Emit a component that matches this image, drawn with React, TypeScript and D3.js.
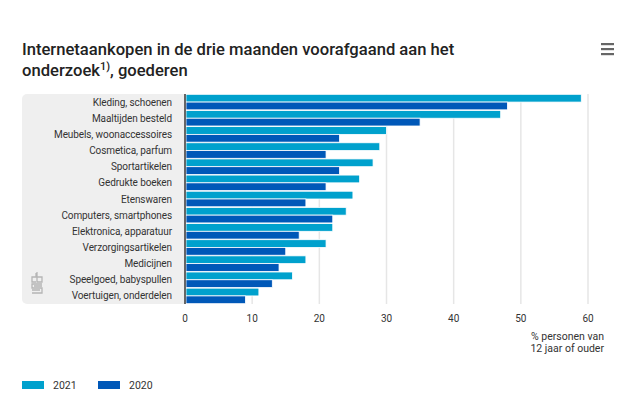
import React, { useRef, useEffect } from "react";
import * as d3 from "d3";

const categories = [
  "Kleding, schoenen",
  "Maaltijden besteld",
  "Meubels, woonaccessoires",
  "Cosmetica, parfum",
  "Sportartikelen",
  "Gedrukte boeken",
  "Etenswaren",
  "Computers, smartphones",
  "Elektronica, apparatuur",
  "Verzorgingsartikelen",
  "Medicijnen",
  "Speelgoed, babyspullen",
  "Voertuigen, onderdelen",
];
const values2021 = [59, 47, 30, 29, 28, 26, 25, 24, 22, 21, 18, 16, 11];
const values2020 = [48, 35, 23, 21, 23, 21, 18, 22, 17, 15, 14, 13, 9];
const seriesNames = ["2021", "2020"];
const xTicks = [0, 10, 20, 30, 40, 50, 60];

const App = () => {
  const ref = useRef<SVGSVGElement>(null);

  useEffect(() => {
    const width = 642;
    const height = 397;
    const font = "Roboto, sans-serif";
    const colors = ["#00a1cd", "#0058b8"];
    const left = 185;
    const right = 588;
    const top = 94;
    const bottom = 304;

    const svg = d3.select(ref.current);
    svg.selectAll("*").remove();
    svg.attr("width", width).attr("height", height);

    // title
    svg
      .append("text")
      .attr("x", 22)
      .attr("y", 55)
      .style("font-family", font)
      .style("font-weight", "500")
      .style("font-size", "16.6px")
      .style("fill", "#222")
      .text("Internetaankopen in de drie maanden voorafgaand aan het");
    const t2 = svg
      .append("text")
      .attr("x", 22)
      .attr("y", 76)
      .style("font-family", font)
      .style("font-weight", "500")
      .style("font-size", "16.6px")
      .style("fill", "#222");
    t2.append("tspan").text("onderzoek");
    t2.append("tspan").attr("dy", -6).style("font-size", "11px").text("1)");
    t2.append("tspan").attr("dy", 6).text(", goederen");

    // menu icon
    [44, 49, 54].forEach((y) => {
      svg
        .append("rect")
        .attr("x", 601)
        .attr("y", y - 1)
        .attr("width", 13)
        .attr("height", 2.2)
        .attr("fill", "#666");
    });

    const x = d3.scaleLinear().domain([0, 60]).range([left, right]);
    const y = d3.scaleBand().domain(categories).range([top, bottom]);
    const inner = d3
      .scaleBand()
      .domain(seriesNames)
      .range([0, y.bandwidth()])
      .paddingInner(0)
      .paddingOuter(0.04);

    // label panel
    svg
      .append("rect")
      .attr("x", 22)
      .attr("y", top)
      .attr("width", left - 22 + 4)
      .attr("height", bottom - top)
      .attr("rx", 5)
      .attr("fill", "#efefef");
    svg
      .append("rect")
      .attr("x", left)
      .attr("y", top)
      .attr("width", 6)
      .attr("height", bottom - top)
      .attr("fill", "#fff");

    // grid
    svg
      .append("g")
      .selectAll("line")
      .data(xTicks.filter((d) => d > 0))
      .enter()
      .append("line")
      .attr("x1", (d) => x(d))
      .attr("x2", (d) => x(d))
      .attr("y1", top)
      .attr("y2", bottom)
      .attr("stroke", "#e6e6e6")
      .attr("stroke-width", 1.5);

    // bars
    const series = [values2021, values2020];
    series.forEach((vals, si) => {
      svg
        .append("g")
        .selectAll("rect")
        .data(vals)
        .enter()
        .append("rect")
        .attr("x", x(0) + 1)
        .attr("y", (d, i) => (y(categories[i]) as number) + (inner(seriesNames[si]) as number))
        .attr("width", (d) => x(d) - x(0) - 1)
        .attr("height", inner.bandwidth())
        .attr("fill", colors[si])
        .attr("stroke", "#ffffff")
        .attr("stroke-width", 0.8);
    });

    // axis line
    svg
      .append("line")
      .attr("x1", left)
      .attr("x2", left)
      .attr("y1", top)
      .attr("y2", bottom)
      .attr("stroke", "#666")
      .attr("stroke-width", 2);

    // category labels
    svg
      .append("g")
      .selectAll("text")
      .data(categories)
      .enter()
      .append("text")
      .attr("x", 172)
      .attr("y", (d) => (y(d) as number) + y.bandwidth() / 2)
      .attr("dy", "0.35em")
      .attr("text-anchor", "end")
      .style("font-family", font)
      .style("font-size", "10px")
      .style("letter-spacing", "-0.1px")
      .style("fill", "#333")
      .text((d) => d);

    // x tick labels
    svg
      .append("g")
      .selectAll("text")
      .data(xTicks)
      .enter()
      .append("text")
      .attr("x", (d) => x(d))
      .attr("y", 318)
      .attr("dy", "0.35em")
      .attr("text-anchor", "middle")
      .style("font-family", font)
      .style("font-size", "10px")
      .style("fill", "#333")
      .text((d) => d);

    // axis title
    ["% personen van", "12 jaar of ouder"].forEach((t, i) => {
      svg
        .append("text")
        .attr("x", 604)
        .attr("y", 336 + i * 12)
        .attr("dy", "0.35em")
        .attr("text-anchor", "end")
        .style("font-family", font)
        .style("font-size", "10.5px")
        .style("fill", "#333")
        .text(t);
    });

    // cbs logo
    const logo = svg
      .append("g")
      .attr("transform", "translate(31,272)")
      .attr("fill", "none")
      .attr("stroke", "#b5b5b5")
      .attr("stroke-width", 1.3);
    logo.append("path").attr("d", "M5,1 V5 H1 V10 H5 M6,0 V10 H11 V5 H6");
    logo.append("path").attr("d", "M11,12 H1 V16 H11 V21 H1 M11,14 H3 M9,18 H1");

    // legend
    const legend = svg.append("g");
    seriesNames.forEach((name, i) => {
      const lx = 22 + i * 76;
      legend
        .append("rect")
        .attr("x", lx)
        .attr("y", 381)
        .attr("width", 22)
        .attr("height", 8)
        .attr("fill", colors[i]);
      legend
        .append("text")
        .attr("x", lx + 31)
        .attr("y", 385)
        .attr("dy", "0.35em")
        .style("font-family", font)
        .style("font-size", "10.5px")
        .style("fill", "#333")
        .text(name);
    });
  }, []);

  return (
    <div style={{ margin: -8 }}>
      <svg ref={ref}></svg>
    </div>
  );
};

export default App;
